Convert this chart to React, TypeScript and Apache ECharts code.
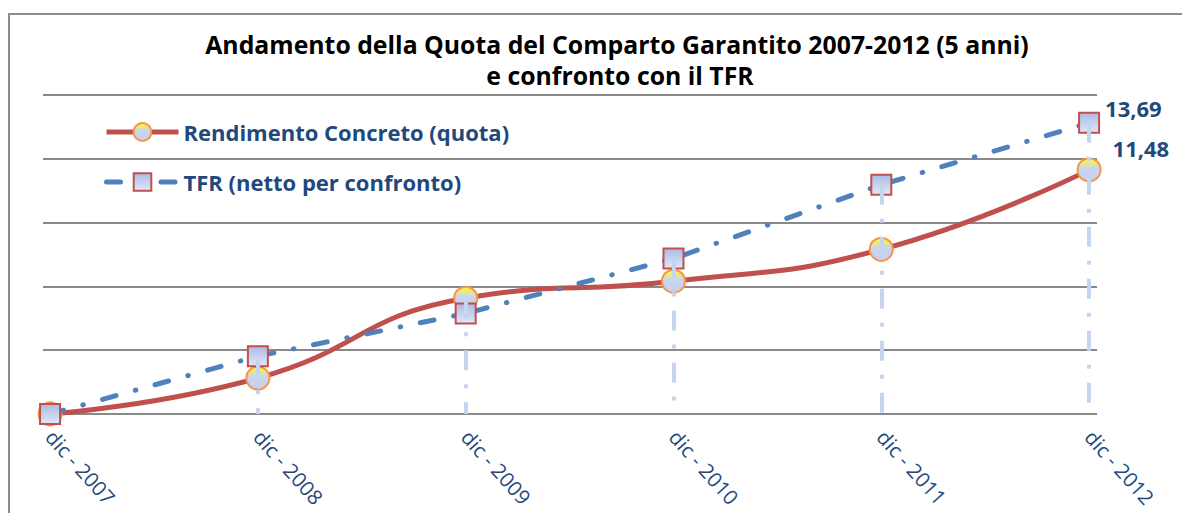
import React, { useEffect, useRef } from "react";
import * as echarts from "echarts";

const categories = ["dic - 2007", "dic - 2008", "dic - 2009", "dic - 2010", "dic - 2011", "dic - 2012"];
const rendimento = [0, 1.69, 5.44, 6.24, 7.74, 11.48];
const tfr = [0, 2.72, 4.73, 7.31, 10.78, 13.69];
const titleLines = ["Andamento della Quota del Comparto Garantito 2007-2012 (5 anni)", "e confronto con il TFR"];
const seriesNames = ["Rendimento Concreto (quota)", "TFR (netto per confronto)"];

const FONT = "'Open Sans', 'Noto Sans', sans-serif";
const DARK = "#1f497d";

const fmt = (v: number) => v.toFixed(2).replace(".", ",");

export default function App() {
  const ref = useRef<HTMLDivElement>(null);
  useEffect(() => {
    if (!ref.current) return;
    const chart = echarts.init(ref.current, null, { renderer: "svg" });
    const last = categories.length - 1;
    const circleFill = new echarts.graphic.LinearGradient(0, 0, 0, 1, [
      { offset: 0, color: "#ffff20" },
      { offset: 0.42, color: "#cad6ee" },
      { offset: 1, color: "#c2cff0" },
    ]);
    const squareFill = new echarts.graphic.LinearGradient(0, 0, 0, 1, [
      { offset: 0, color: "#a9bce6" },
      { offset: 1, color: "#e0e7f6" },
    ]);
    const drops = categories.map((_, i) => [
      { coord: [i, Math.max(rendimento[i], tfr[i])] },
      { coord: [i, 0] },
    ]);
    const labelStyle = {
      fontFamily: FONT,
      fontWeight: "bold",
      fontSize: 22,
      color: DARK,
    };
    chart.setOption({
      animation: false,
      backgroundColor: "#ffffff",
      textStyle: { fontFamily: FONT },
      graphic: [
        {
          type: "rect",
          shape: { x: 9, y: 14, width: 1300, height: 700 },
          style: { fill: "none", stroke: "#8c8c8c", lineWidth: 2 },
          silent: true,
        },
        {
          type: "text",
          x: 617,
          y: 44,
          style: {
            text: titleLines[0],
            fontFamily: FONT,
            fontWeight: "bold",
            fontSize: 24.8,
            fill: "#000000",
            textAlign: "center",
            textVerticalAlign: "middle",
          },
        },
        {
          type: "text",
          x: 620,
          y: 75,
          style: {
            text: titleLines[1],
            fontFamily: FONT,
            fontWeight: "bold",
            fontSize: 24.8,
            fill: "#000000",
            textAlign: "center",
            textVerticalAlign: "middle",
          },
        },
      ],
      legend: {
        orient: "vertical",
        left: 99,
        top: 116,
        itemWidth: 72,
        itemHeight: 22,
        itemGap: 28,
        data: seriesNames,
        lineStyle: { width: 5 },
        textStyle: { fontFamily: FONT, fontWeight: "bold", fontSize: 22, color: DARK },
      },
      grid: { left: 43, right: 85, top: 95, bottom: 99 },
      xAxis: {
        type: "value",
        min: -0.034,
        max: 5.038,
        splitLine: { show: false },
        axisLine: { show: false },
        axisTick: { show: false },
        axisLabel: {
          customValues: categories.map((_, i) => i),
          formatter: (v: number) => categories[Math.round(v)] ?? "",
          rotate: -48,
          margin: 19,
          color: DARK,
          fontSize: 20.5,
          fontFamily: FONT,
        },
      },
      yAxis: {
        type: "value",
        min: 0,
        max: 15,
        interval: 3,
        axisLabel: { show: false },
        axisLine: { show: false },
        axisTick: { show: false },
        splitLine: { lineStyle: { color: "#898989", width: 2 } },
      },
      series: [
        {
          name: seriesNames[0],
          type: "line",
          smooth: true,
          data: rendimento.map((v, i) => ({
            value: [i, v],
            label:
              i === last
                ? {
                    show: true,
                    position: "right",
                    distance: 11,
                    offset: [0, -22],
                    formatter: () => fmt(v),
                    ...labelStyle,
                  }
                : { show: false },
          })),
          symbol: "circle",
          symbolSize: 23,
          lineStyle: { color: "#c0504d", width: 5 },
          itemStyle: { color: circleFill, borderColor: "#f79646", borderWidth: 2 },
          z: 2,
        },
        {
          name: seriesNames[1],
          type: "line",
          data: tfr.map((v, i) => ({
            value: [i, v],
            label:
              i === last
                ? {
                    show: true,
                    position: "right",
                    distance: 5,
                    offset: [0, -15],
                    formatter: () => fmt(v),
                    ...labelStyle,
                  }
                : { show: false },
          })),
          symbol: "rect",
          symbolSize: 20,
          lineStyle: { color: "#4f81bd", width: 5, type: [14, 20, 0.5, 20], cap: "round" },
          itemStyle: { color: squareFill, borderColor: "#c0504d", borderWidth: 2 },
          z: 3,
          markLine: {
            silent: true,
            symbol: ["none", "none"],
            label: { show: false },
            lineStyle: { color: "#c6d5ef", width: 4, type: [20, 14, 4, 14], opacity: 1 },
            emphasis: { disabled: true },
            data: drops,
            z: 6,
          },
        },
      ],
    });
    return () => chart.dispose();
  }, []);
  return (
    <div
      ref={ref}
      style={{ position: "absolute", left: 0, top: 0, width: 1182, height: 513, background: "#fff" }}
    />
  );
}
